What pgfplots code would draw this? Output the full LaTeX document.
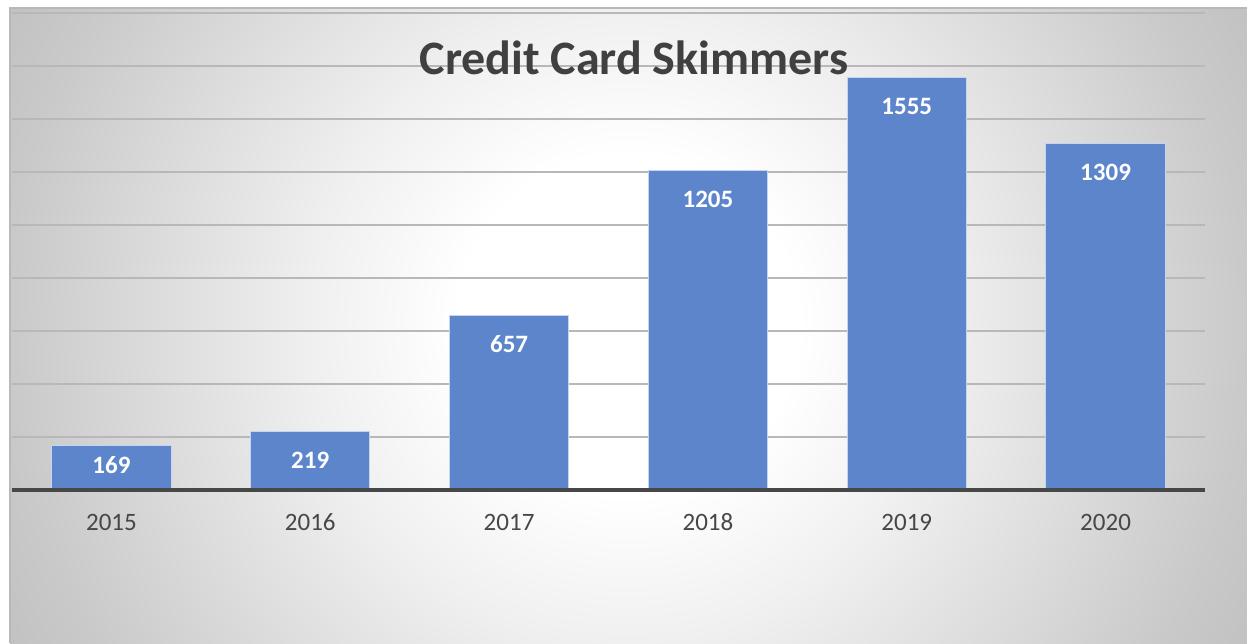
\documentclass[border=0pt]{standalone}
\usepackage{pgfplots}
\pgfplotsset{compat=1.18}
\usepackage{pgfplotstable}
\usepackage{fontspec}
\setmainfont{Carlito}
\definecolor{barblue}{RGB}{92,133,204}
\pgfdeclareradialshading{bgshade}{\pgfpoint{0bp}{0bp}}{color(0bp)=(white); color(85bp)=(white); color(158bp)=(black!6); color(308bp)=(black!21); color(360bp)=(black!25)}
\pgfplotstableread{
x y off
0 169 14
1 219 18.5
2 657 18.5
3 1205 18.5
4 1555 18.5
5 1309 18.5
}\data
\begin{document}
\begin{tikzpicture}
\useasboundingbox (-6pt,-76.5pt) rectangle (617.5pt,245pt);
\fill[black!25] (-1pt,-76.5pt) rectangle (617.5pt,241pt);
\begin{scope}
\clip (-1pt,-76.5pt) rectangle (617.5pt,241pt);
\pgftext[at=\pgfpoint{308pt}{82.5pt}]{\pgfuseshading{bgshade}}
\end{scope}
\draw[black!28, line width=0.6pt] (-1pt,-76.5pt) -- (-1pt,241pt) -- (617.5pt,241pt);
\begin{axis}[
 scale only axis, width=596.5pt, height=238.5pt,
 xmin=-0.5, xmax=5.5, ymin=0, ymax=1800,
 axis line style={draw=none},
 ytick={0,200,...,1800}, yticklabel=\empty,
 ymajorgrids, grid style={black!28, line width=0.6pt},
 major tick length=0pt,
 xtick=data, xticklabels={2015,2016,2017,2018,2019,2020},
 xticklabel style={font=\fontsize{12.5}{15}\selectfont, text=black!72, inner sep=0pt, anchor=base, yshift=-20pt},
 ybar, bar width=0.6,
 /pgf/number format/.cd, 1000 sep={}, assume math mode=true, /pgfplots/.cd,
 nodes near coords,
 visualization depends on={\thisrow{off} \as \off},
 every node near coord/.append style={anchor=base, inner sep=0pt, yshift=-\off pt, font=\bfseries\fontsize{12.5}{15}\selectfont, text=white},
 clip=false
]
\addplot[fill=barblue, draw=white!65!barblue, line width=0.5pt] table[x=x, y=y] {\data};
\draw[black!72, line width=2pt] (rel axis cs:0,0) -- (rel axis cs:1,0);
\end{axis}
\node[font=\bfseries\fontsize{24}{29}\selectfont, text=black!75, anchor=base, inner sep=0pt] at (311pt,207.5pt) {Credit Card Skimmers};
\end{tikzpicture}
\end{document}
